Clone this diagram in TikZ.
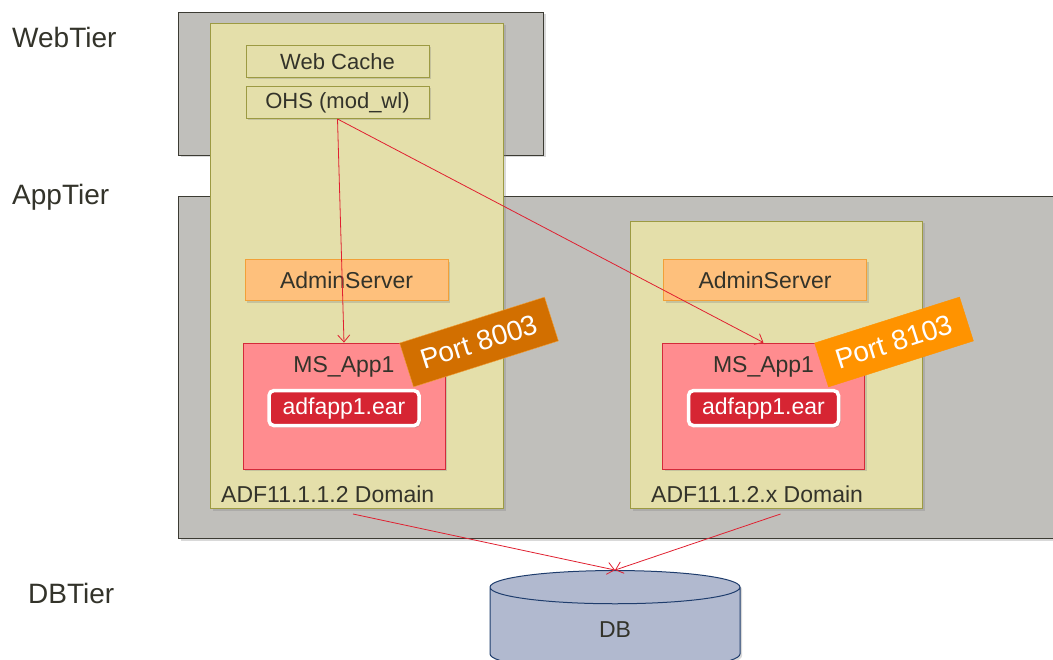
\documentclass[tikz,border=0pt]{standalone}
\usepackage{fontspec}
\setmainfont{Liberation Sans}
\usetikzlibrary{positioning,arrows.meta,shapes.geometric,shadows}
\definecolor{tiergray}{HTML}{C0BFBB}
\definecolor{tierline}{HTML}{3C3B33}
\definecolor{domfill}{HTML}{E4DFAA}
\definecolor{domline}{HTML}{9C9A42}
\definecolor{admfill}{HTML}{FEC07C}
\definecolor{admline}{HTML}{F2A038}
\definecolor{msfill}{HTML}{FF8C8F}
\definecolor{msline}{HTML}{D42A3A}
\definecolor{earfill}{HTML}{D62533}
\definecolor{portdark}{HTML}{D26F00}
\definecolor{portlight}{HTML}{FF9300}
\definecolor{dbfill}{HTML}{B1B9CF}
\definecolor{dbline}{HTML}{1F3D6D}
\definecolor{txt}{HTML}{33332A}
\definecolor{arrred}{HTML}{E02030}
\begin{document}
\begin{tikzpicture}[x=1pt,y=-1pt,
  shd/.style={drop shadow={shadow xshift=2pt,shadow yshift=-2pt,opacity=.3}},
  tier/.style={rectangle,draw=tierline,fill=tiergray,line width=1pt,anchor=north west,shd},
  dom/.style={rectangle,draw=domline,fill=domfill,line width=1pt,anchor=north west,shd},
  web/.style={rectangle,draw=domline,fill=domfill,line width=1pt,minimum width=183,minimum height=32,text=txt,font=\fontsize{22}{26}\selectfont,shd},
  adm/.style={rectangle,draw=admline,fill=admfill,line width=1pt,minimum width=203,minimum height=41,text=txt,font=\fontsize{23}{27}\selectfont,shd},
  ms/.style={rectangle,draw=msline,fill=msfill,line width=.8pt,minimum width=202,minimum height=126,shd},
  ear/.style={rectangle,rounded corners=5pt,draw=white,line width=3.5pt,fill=earfill,minimum width=150,minimum height=35,text=white,font=\fontsize{23}{27}\selectfont,shd},
  port/.style={rectangle,rotate=17.6,minimum width=152,minimum height=46,text=white,font=\fontsize{28}{32}\selectfont},
  lbl/.style={text=txt,font=\fontsize{23}{27}\selectfont,inner sep=0pt},
  tierlbl/.style={text=txt,font=\fontsize{28}{32}\selectfont,inner sep=0pt,anchor=west},
  arr/.style={-{Straight Barb[length=7pt,width=12pt]},draw=arrred,line width=.8pt}
]
\useasboundingbox (0,0) rectangle (1053,660);
\node[tier,minimum width=365,minimum height=143] (webtier) at (178,12) {};
\node[tier,minimum width=885,minimum height=342] (apptier) at (178,196) {};
\node[dom,minimum width=293,minimum height=485] (dom1) at (210,23) {};
\node[dom,minimum width=292,minimum height=287] (dom2) at (630,221) {};
\node[tierlbl] (weblbl) at (12,37) {WebTier};
\node[tierlbl] (applbl) at (12,197) {AppTier};
\node[tierlbl] (dblbl) at (28,593) {DBTier};
\node[web] (cache) at (337.5,61.5) {Web Cache};
\node[web,below=8pt of cache] (ohs) {OHS (mod\_wl)};
\node[adm] (adm1) at (346.5,280.5) {AdminServer};
\node[adm] (adm2) at (765,280.5) {AdminServer};
\node[ms] (ms1) at (344,406) {};
\node[ms] (ms2) at (763.5,406) {};
\node[lbl,below=14pt of ms1.north] (msl1) {MS\_App1};
\node[lbl,below=14pt of ms2.north] (msl2) {MS\_App1};
\node[ear,below=11pt of msl1] (ear1) {adfapp1.ear};
\node[ear,below=11pt of msl2] (ear2) {adfapp1.ear};
\node[lbl,anchor=west] (d1lbl) at ([xshift=11pt,yshift=15pt]dom1.south west) {ADF11.1.1.2 Domain};
\node[lbl,anchor=west] (d2lbl) at ([xshift=21pt,yshift=15pt]dom2.south west) {ADF11.1.2.x Domain};
\node[cylinder,shape border rotate=90,aspect=.86,draw=dbline,fill=dbfill,line width=1pt,minimum width=250,minimum height=100,text=txt,font=\fontsize{23}{27}\selectfont,shd] (db) at (615,631) {\raisebox{-6pt}[0pt][0pt]{DB}};
\draw[arr] (ohs.south) -- (ms1.north);
\draw[arr] (ohs.south) -- (ms2.north);
\draw[arr] ([xshift=-4pt,yshift=-5pt]dom1.south) -- (db.north);
\draw[arr] ([xshift=4pt,yshift=-5pt]dom2.south) -- (db.north);
\node[port,fill=portdark,draw=admline] (port1) at (479,342) {Port 8003};
\node[port,fill=portlight,draw=portlight] (port2) at (894,342) {Port 8103};
\end{tikzpicture}
\end{document}
